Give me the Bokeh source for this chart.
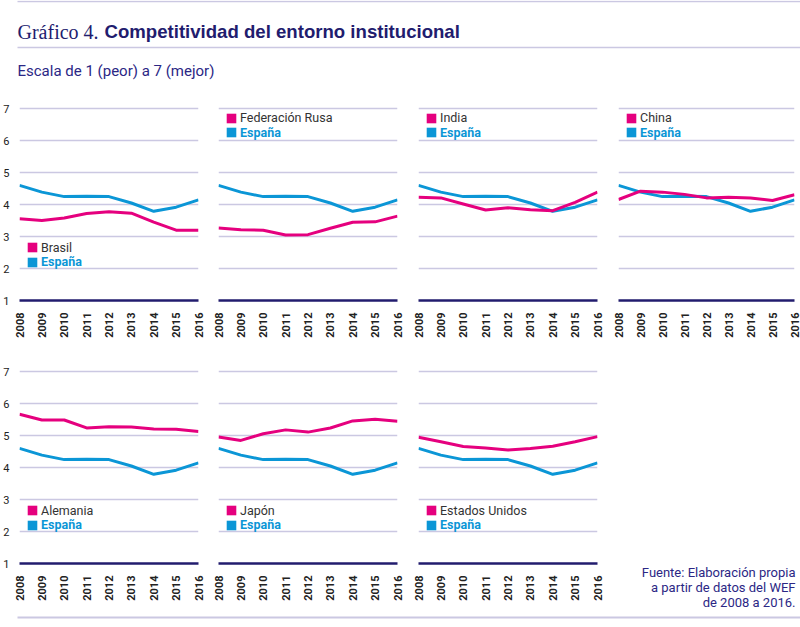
import numpy as np
from bokeh.models import Range1d, FixedTicker, Legend, LegendItem, Label
from bokeh.plotting import figure
from bokeh.layouts import column, row
from bokeh.embed import file_html
from bokeh.resources import INLINE

# datos (WEF, escala 1-7)
years = [2008, 2009, 2010, 2011, 2012, 2013, 2014, 2015, 2016]
espana = [4.60, 4.39, 4.25, 4.26, 4.25, 4.05, 3.79, 3.92, 4.15]
brasil = [3.56, 3.50, 3.58, 3.72, 3.78, 3.73, 3.45, 3.20, 3.20]
rusia = [3.27, 3.21, 3.20, 3.05, 3.06, 3.26, 3.45, 3.46, 3.64]
india = [4.23, 4.21, 4.02, 3.83, 3.90, 3.84, 3.81, 4.07, 4.39]
china = [4.16, 4.42, 4.39, 4.32, 4.21, 4.23, 4.21, 4.13, 4.31]
alemania = [5.67, 5.49, 5.49, 5.24, 5.28, 5.27, 5.21, 5.20, 5.13]
japon = [4.96, 4.85, 5.06, 5.18, 5.11, 5.24, 5.46, 5.51, 5.45]
eeuu = [4.95, 4.81, 4.66, 4.61, 4.55, 4.60, 4.67, 4.81, 4.97]
y_ticks = [1, 2, 3, 4, 5, 6, 7]
fuente = ["Fuente: Elaboración propia", "a partir de datos del WEF", "de 2008 a 2016."]

PINK = "#e5007e"
BLUE = "#0b96d6"
NAVY = "#221c6e"
TEXT_NAVY = "#2b2785"
GRID = "#cbc8e2"
FONT = "Roboto"


def panel(nombre, valores, fw, left, right, top, bottom, leg_top, show_y):
    p = figure(frame_width=fw, frame_height=195,
               x_range=Range1d(2008, 2016), y_range=Range1d(1, 7.1),
               min_border_left=left, min_border_right=right,
               min_border_top=top, min_border_bottom=bottom,
               output_backend="svg", toolbar_location=None, tools="")
    p.outline_line_color = None
    p.xgrid.grid_line_color = None
    p.ygrid.ticker = FixedTicker(ticks=y_ticks[1:])
    p.ygrid.grid_line_color = GRID
    p.ygrid.grid_line_width = 1.5

    p.xaxis.ticker = FixedTicker(ticks=years)
    p.xaxis.major_label_orientation = np.pi / 2
    p.xaxis.major_label_text_font = FONT
    p.xaxis.major_label_text_font_size = "11px"
    p.xaxis.major_label_text_font_style = "bold"
    p.xaxis.major_label_text_color = "#222222"
    p.xaxis.major_label_standoff = 6
    p.xaxis.major_tick_line_color = None
    p.xaxis.minor_tick_line_color = None
    p.xaxis.axis_line_color = NAVY
    p.xaxis.axis_line_width = 2.5

    p.yaxis.ticker = FixedTicker(ticks=y_ticks)
    p.yaxis.axis_line_color = None
    p.yaxis.major_tick_line_color = None
    p.yaxis.minor_tick_line_color = None
    p.yaxis.major_label_text_font = FONT
    p.yaxis.major_label_text_font_size = "11px"
    p.yaxis.major_label_text_color = "#222222"
    p.yaxis.major_label_standoff = 4
    p.yaxis.visible = show_y

    p.line(years, espana, line_color=BLUE, line_width=3)
    p.line(years, valores, line_color=PINK, line_width=3)

    # leyenda: cuadrados de color (renderers sin puntos visibles)
    r_pais = p.quad(left=[np.nan], right=[np.nan], top=[np.nan], bottom=[np.nan],
                    fill_color=PINK, line_color=None)
    r_esp = p.quad(left=[np.nan], right=[np.nan], top=[np.nan], bottom=[np.nan],
                   fill_color=BLUE, line_color=None)
    for r, txt, color, style, dy in [(r_pais, nombre, "#333333", "normal", 0),
                                     (r_esp, "España", BLUE, "bold", -14.5)]:
        leg = Legend(items=[LegendItem(label=txt, renderers=[r])],
                     location=(7, leg_top + dy),
                     glyph_width=12, glyph_height=12, label_standoff=3,
                     label_height=14, label_text_font=FONT,
                     label_text_font_size="12.5px", label_text_color=color,
                     label_text_font_style=style,
                     padding=0, spacing=0, margin=0,
                     background_fill_alpha=0, border_line_alpha=0)
        p.add_layout(leg)
    return p


# fila superior
p1 = panel("Brasil", brasil, 179, 18, 10, 10, 45, 45.5, True)
p2 = panel("Federación Rusa", rusia, 179, 10, 11, 10, 45, 175, False)
p3 = panel("India", india, 179, 10, 11, 10, 45, 175, False)
p4 = panel("China", china, 176, 10, 7, 10, 45, 175, False)

# fila inferior
p5 = panel("Alemania", alemania, 179, 18, 10, 23, 48, 45.5, True)
p6 = panel("Japón", japon, 179, 10, 11, 23, 48, 45.5, False)
p7 = panel("Estados Unidos", eeuu, 179, 10, 11, 23, 48, 45.5, False)


def blank(w, h, top=0, bottom=0):
    b = figure(frame_width=w, frame_height=h, x_range=Range1d(0, w), y_range=Range1d(h, 0),
               min_border=0, min_border_top=top, min_border_bottom=bottom,
               output_backend="svg", toolbar_location=None, tools="")
    b.axis.visible = False
    b.grid.visible = False
    b.outline_line_color = None
    return b


# nota de fuente (marco desde la altura del 7 hasta el final de la fila)
nota = blank(193, 243, top=23)
for i, txt in enumerate(fuente):
    nota.add_layout(Label(x=187, y=204 + 15 * i, text=txt, text_align="right",
                          text_baseline="alphabetic",
                          text_font=FONT, text_font_size="13px",
                          text_color=TEXT_NAVY))

header = blank(800, 95)
header.segment(x0=[17, 17], y0=[1, 47], x1=[800, 800], y1=[1, 47],
               line_color=GRID, line_width=1.5)
header.add_layout(Label(x=17, y=31, text="Gráfico 4.", text_font="Liberation Serif",
                        text_baseline="alphabetic",
                        text_font_size="20px", text_color=NAVY))
header.add_layout(Label(x=104, y=31, text="Competitividad del entorno institucional",
                        text_font="Liberation Sans", text_font_size="18.6px",
                        text_font_style="bold", text_baseline="alphabetic",
                        text_color=NAVY))
header.add_layout(Label(x=17, y=70, text="Escala de 1 (peor) a 7 (mejor)",
                        text_font=FONT, text_font_size="15px",
                        text_baseline="alphabetic", text_color=TEXT_NAVY))

footer = blank(800, 8)
footer.segment(x0=[17], y0=[2], x1=[800], y1=[2], line_color=GRID, line_width=2)

layout = column(header, row(p1, p2, p3, p4), row(p5, p6, p7, nota), footer)

open("out.html", "w").write(file_html(layout, INLINE))
